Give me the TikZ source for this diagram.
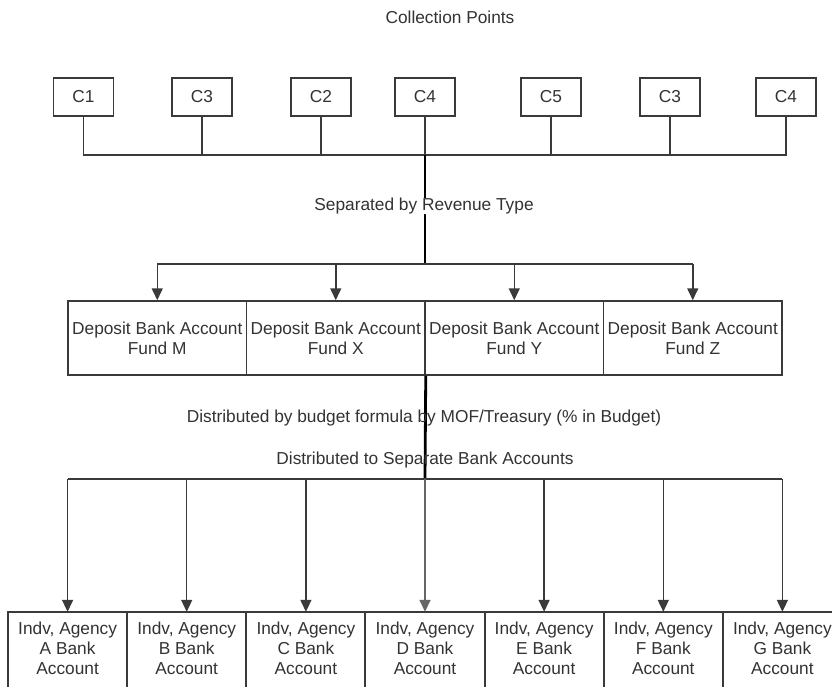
\documentclass[tikz,border=0pt]{standalone}
\usepackage{fontspec}
\setmainfont{Liberation Sans}
\usetikzlibrary{arrows.meta,calc}
\definecolor{ln}{HTML}{3A3A3A}
\definecolor{tx}{HTML}{333333}
\tikzset{
  every node/.style={font=\fontsize{17.3}{20}\selectfont, text=tx},
  cbox/.style={draw=ln, line width=1.5pt, minimum width=60pt, minimum height=38pt, inner sep=0pt},
  dbox/.style={draw=ln, line width=1.5pt, minimum width=178.5pt, minimum height=74pt, inner sep=0pt, align=center},
  abox/.style={minimum width=119.14pt, minimum height=72pt, inner sep=0pt, align=center},
  wire/.style={draw=ln, line width=1.5pt},
  trunk/.style={draw=black, line width=2.8pt},
  arr/.style={wire, -{Triangle[width=11pt,length=12pt]}},
  lbl/.style={inner sep=1pt},
}
\begin{document}
\begin{tikzpicture}[x=1pt,y=-1pt]
\clip (0,0) rectangle (832,686);
\useasboundingbox (0,0) rectangle (832,686);
\fill[white] (0,0) rectangle (832,686);

% title
\node[lbl] (title) at (450,17) {Collection Points};

% collection points
\node[cbox] (c1) at (83.5,97) {C1};
\node[cbox] (c2) at (202,97) {C3};
\node[cbox] (c3) at (321,97) {C2};
\node[cbox] (c4) at (425,97) {C4};
\node[cbox] (c5) at (551,97) {C5};
\node[cbox] (c6) at (670,97) {C3};
\node[cbox] (c7) at (786,97) {C4};

\coordinate (bus1) at (425,155);
\coordinate (split) at (425,264);

\draw[wire] (c1.south) -- (c1.south |- bus1) -- (c7.south |- bus1) -- (c7.south);
\foreach \c in {c2,c3,c4,c5,c6} \draw[wire] (\c.south) -- (\c.south |- bus1);
\draw[trunk] (bus1) -- (split);

% deposit accounts
\node[dbox] (d1) at (157.25,338) {Deposit Bank Account\\Fund M};
\node[dbox] (d2) at (335.75,338) {Deposit Bank Account\\Fund X};
\node[dbox] (d3) at (514.25,338) {Deposit Bank Account\\Fund Y};
\node[dbox] (d4) at (692.75,338) {Deposit Bank Account\\Fund Z};

\draw[wire] (d1.north |- split) -- (d4.north |- split);
\foreach \d in {d1,d2,d3,d4} \draw[arr] (\d.north |- split) -- (\d.north);

\node[lbl, fill=white, inner sep=0pt] (sep) at (424,206) {Separated by Revenue Type};

% distribution
\coordinate (bus2) at (425,479);
\draw[trunk] (d2.south east) -- (bus2);

% agency accounts
\node[abox] (a1) at (67.6,648) {Indv, Agency\\A Bank\\Account};
\node[abox] (a2) at (186.7,648) {Indv, Agency\\B Bank\\Account};
\node[abox] (a3) at (305.9,648) {Indv, Agency\\C Bank\\Account};
\node[abox] (a4) at (425,648) {Indv, Agency\\D Bank\\Account};
\node[abox] (a5) at (544.1,648) {Indv, Agency\\E Bank\\Account};
\node[abox] (a6) at (663.3,648) {Indv, Agency\\F Bank\\Account};
\node[abox] (a7) at (782.4,648) {Indv, Agency\\G Bank\\Account};
\foreach \a in {a1,a2,a3,a4,a5,a6,a7}
  \draw[wire] (\a.north west) rectangle ($(\a.north east)+(0,100)$);

\draw[wire] (a1.north |- bus2) -- (a7.north |- bus2);
\foreach \a in {a1,a2,a3,a5,a6,a7} \draw[arr] (\a.north |- bus2) -- (\a.north);
\draw[arr, draw=black!60] (bus2) -- (a4.north);

\node[lbl] (dist1) at (424,418) {Distributed by budget formula by MOF/Treasury (\% in Budget)};
\node[lbl] (dist2) at (425,460) {Distributed to Separate Bank Accounts};
\end{tikzpicture}
\end{document}
